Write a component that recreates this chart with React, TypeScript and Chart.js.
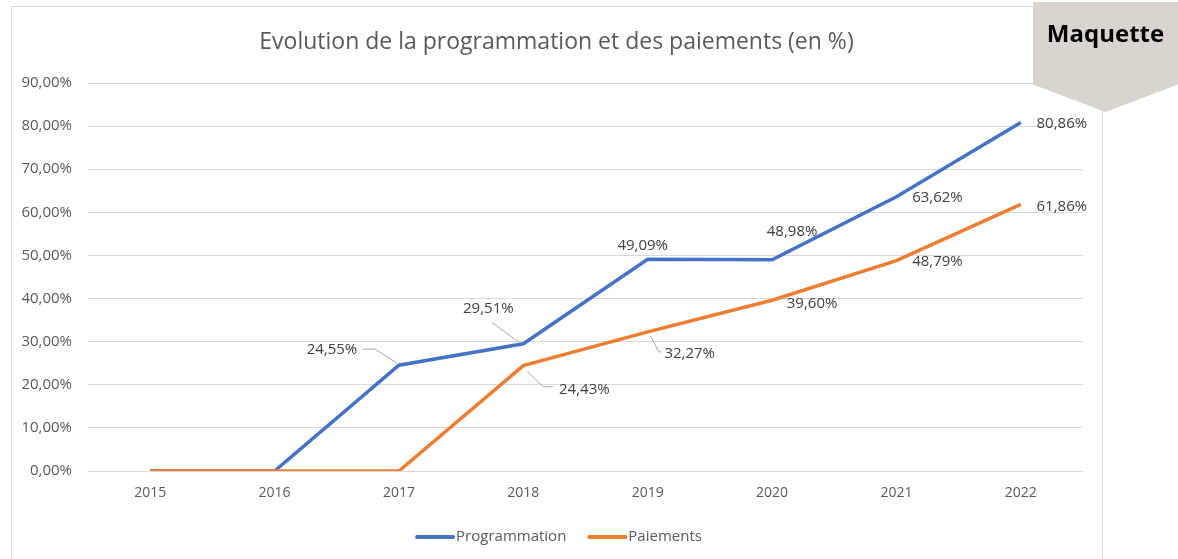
import React, { useEffect, useRef } from "react";
import { Chart, registerables } from "chart.js";

Chart.register(...registerables);

const categories = ["2015", "2016", "2017", "2018", "2019", "2020", "2021", "2022"];
const programmation = [0, 0, 24.55, 29.51, 49.09, 48.98, 63.62, 80.86];
const paiements = [0, 0, 0, 24.43, 32.27, 39.6, 48.79, 61.86];
const yTickValues = [0, 10, 20, 30, 40, 50, 60, 70, 80, 90];
const seriesNames = ["Programmation", "Paiements"];
const titleText = "Evolution de la programmation et des paiements (en %)";

// Label placement (offsets from the point, in px) and optional leader lines
type LabelPos = { dx: number; dy: number; leader?: [number, number][] } | null;
const progLabelPos: LabelPos[] = [
  null,
  null,
  { dx: -67, dy: -15, leader: [[-36, -16], [-24, -16], [-2, -2]] },
  { dx: -35, dy: -35, leader: [[-31, -21], [-5, -2]] },
  { dx: -5, dy: -14 },
  { dx: 20, dy: -28 },
  { dx: 41, dy: 1 },
  { dx: 41, dy: 1 },
];
const payLabelPos: LabelPos[] = [
  null,
  null,
  null,
  { dx: 61, dy: 24, leader: [[4, 6], [20, 21], [30, 21]] },
  { dx: 42, dy: 22, leader: [[3, 4], [11, 20], [14, 20]] },
  { dx: 40, dy: 3 },
  { dx: 41, dy: 1 },
  { dx: 41, dy: 2 },
];

const FONT = "'Open Sans', 'Liberation Sans', sans-serif";
const fmt = (v: number) => v.toFixed(2).replace(".", ",") + "%";

const dataLabelPlugin = {
  id: "dataLabelPlugin",
  afterDatasetsDraw(chart: any) {
    const ctx = chart.ctx;
    const configs = [progLabelPos, payLabelPos];
    ctx.save();
    chart.data.datasets.forEach((ds: any, di: number) => {
      const meta = chart.getDatasetMeta(di);
      meta.data.forEach((pt: any, i: number) => {
        const cfg = configs[di][i];
        if (!cfg) return;
        const x = pt.x;
        const y = pt.y;
        if (cfg.leader) {
          ctx.strokeStyle = "#A6A6A6";
          ctx.lineWidth = 1;
          ctx.beginPath();
          cfg.leader.forEach(([lx, ly], k) => {
            if (k === 0) ctx.moveTo(x + lx, y + ly);
            else ctx.lineTo(x + lx, y + ly);
          });
          ctx.stroke();
        }
        ctx.fillStyle = "#404040";
        ctx.font = `15px ${FONT}`;
        ctx.textAlign = "center";
        ctx.textBaseline = "middle";
        ctx.fillText(fmt(ds.data[i]), x + cfg.dx, y + cfg.dy);
      });
    });
    ctx.restore();
  },
};

const titleLegendPlugin = {
  id: "titleLegendPlugin",
  afterDraw(chart: any) {
    const ctx = chart.ctx;
    ctx.save();
    // Title
    ctx.fillStyle = "#595959";
    ctx.font = `23px ${FONT}`;
    ctx.textAlign = "center";
    ctx.textBaseline = "middle";
    ctx.fillText(titleText, 556.5, 42);
    // Legend
    ctx.font = `15px ${FONT}`;
    const lineW = 38;
    const gapText = 2;
    const gapItem = 22;
    const items = chart.data.datasets.map((ds: any) => ({
      label: ds.label,
      color: ds.borderColor,
      w: lineW + gapText + ctx.measureText(ds.label).width,
    }));
    const total = items.reduce((a: number, it: any) => a + it.w, 0) + gapItem * (items.length - 1);
    let x = 559 - total / 2;
    const y = 537;
    items.forEach((it: any) => {
      ctx.strokeStyle = it.color;
      ctx.lineWidth = 4;
      ctx.lineCap = "round";
      ctx.beginPath();
      ctx.moveTo(x + 1, y);
      ctx.lineTo(x + lineW - 1, y);
      ctx.stroke();
      ctx.fillStyle = "#595959";
      ctx.textAlign = "left";
      ctx.fillText(it.label, x + lineW + gapText, y);
      x += it.w + gapItem;
    });
    ctx.restore();
  },
};

export default function App() {
  const canvasRef = useRef<HTMLCanvasElement>(null);

  useEffect(() => {
    if (!canvasRef.current) return;
    const chart = new Chart(canvasRef.current, {
      type: "line",
      data: {
        labels: categories,
        datasets: [
          {
            label: seriesNames[0],
            data: programmation,
            borderColor: "#4472C4",
            backgroundColor: "#4472C4",
            borderWidth: 3.5,
            pointRadius: 0,
            tension: 0,
            order: 2,
          },
          {
            label: seriesNames[1],
            data: paiements,
            borderColor: "#ED7D31",
            backgroundColor: "#ED7D31",
            borderWidth: 3.5,
            pointRadius: 0,
            tension: 0,
            order: 1,
          },
        ],
      },
      options: {
        responsive: false,
        animation: false,
        layout: { padding: { left: 11, right: 95, top: 83, bottom: 39 } },
        plugins: {
          tooltip: { enabled: false },
          title: { display: false },
          legend: { display: false },
        },
        scales: {
          x: {
            grid: { display: false, drawTicks: false },
            border: { display: false },
            offset: true,
            ticks: {
              color: "#595959",
              font: { family: FONT, size: 14 },
              padding: 14,
              maxRotation: 0,
            },
            afterFit: (s: any) => {
              s.height = 49;
            },
          },
          y: {
            min: 0,
            max: 90,
            afterBuildTicks: (s: any) => {
              s.ticks = yTickValues.map((v) => ({ value: v }));
            },
            grid: { color: "#D9D9D9", lineWidth: 1, drawTicks: false },
            border: { display: false },
            ticks: {
              color: "#595959",
              font: { family: FONT, size: 15 },
              padding: 16,
              callback: (v: any) => fmt(Number(v)),
            },
            afterFit: (s: any) => {
              s.width = 77;
            },
          },
        },
      },
      plugins: [dataLabelPlugin, titleLegendPlugin],
    });
    return () => chart.destroy();
  }, []);

  return (
    <div
      style={{
        position: "absolute",
        left: 0,
        top: 0,
        width: 1178,
        height: 559,
        overflow: "hidden",
        background: "#FFFFFF",
      }}
    >
      <div
        style={{
          position: "absolute",
          left: 11,
          top: 6,
          width: 1090,
          height: 600,
          border: "1px solid #D9D9D9",
        }}
      />
      <canvas
        ref={canvasRef}
        width={1178}
        height={559}
        style={{ position: "absolute", left: 0, top: 0, display: "block" }}
      />
      <div
        style={{
          position: "absolute",
          left: 1033,
          top: 2,
          width: 145,
          height: 110,
          background: "#D9D4CD",
          clipPath: "polygon(0 0, 100% 0, 100% 75%, 50% 100%, 0 75%)",
        }}
      />
      <div
        style={{
          position: "absolute",
          left: 1033,
          top: 16,
          width: 145,
          textAlign: "center",
          fontFamily: FONT,
          fontWeight: 700,
          fontSize: 24,
          color: "#000000",
          lineHeight: "34px",
        }}
      >
        Maquette
      </div>
    </div>
  );
}
